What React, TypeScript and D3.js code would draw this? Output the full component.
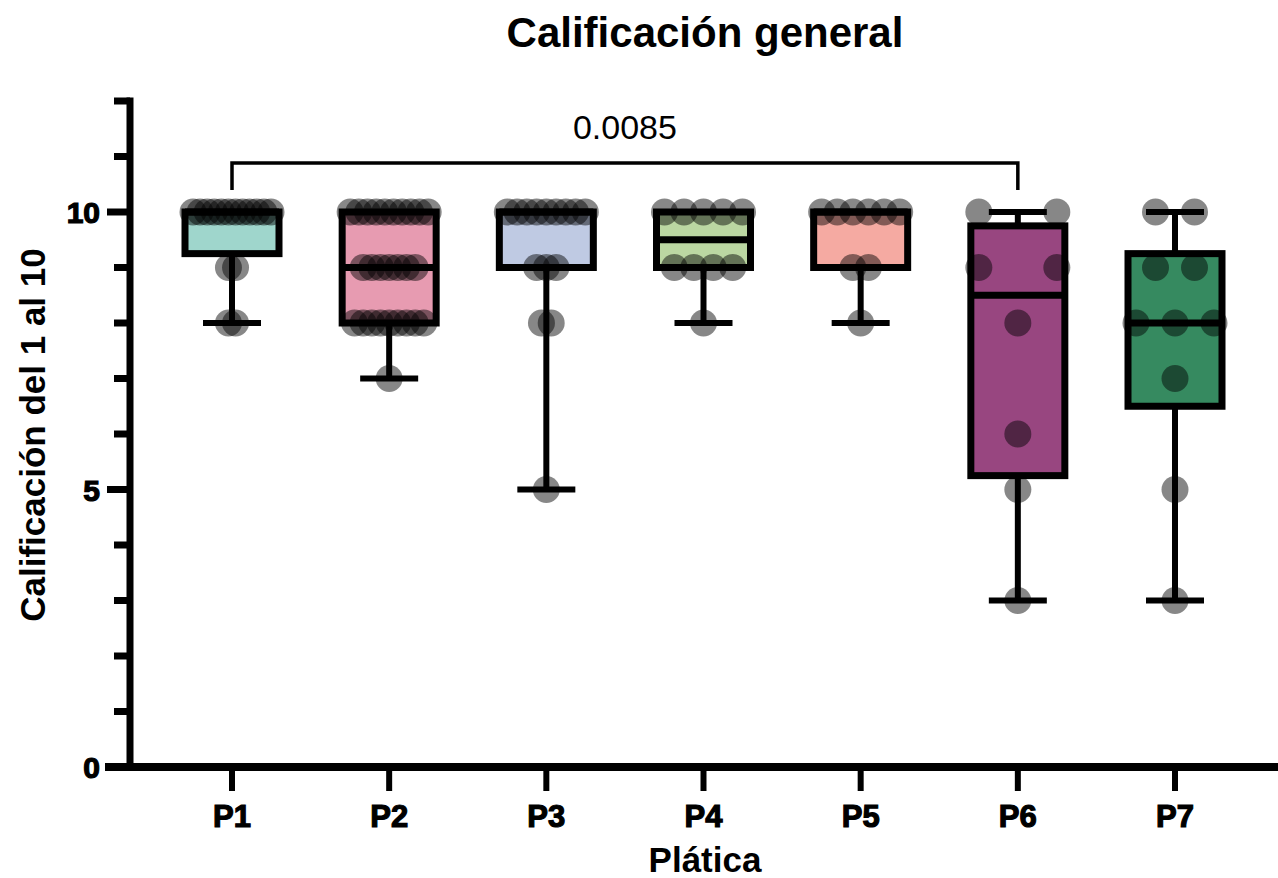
import React from "react";
import * as d3 from "d3";

// ---------- data ----------
const categories = ["P1", "P2", "P3", "P4", "P5", "P6", "P7"];

const p1Values = [8, 8, 9, 9, 10, 10, 10, 10, 10, 10, 10, 10, 10, 10, 10, 10];
const p2Values = [7, 8, 8, 8, 8, 8, 8, 8, 8, 8, 9, 9, 9, 9, 9, 9, 9, 10, 10, 10, 10, 10, 10, 10, 10, 10, 10];
const p3Values = [5, 8, 8, 9, 9, 9, 10, 10, 10, 10, 10, 10, 10, 10, 10];
const p4Values = [8, 9, 9, 9, 9, 10, 10, 10, 10, 10];
const p5Values = [8, 9, 9, 10, 10, 10, 10, 10, 10];
const p6Values = [3, 5, 6, 8, 9, 9, 10, 10];
const p7Values = [3, 5, 7, 8, 8, 8, 9, 9, 10, 10];
const seriesValues = [p1Values, p2Values, p3Values, p4Values, p5Values, p6Values, p7Values];

const boxColors = ["#9fd6cc", "#e79bb1", "#bfcae3", "#bbd7a2", "#f5aaa2", "#984680", "#368a60"];

const yTickValues = [0, 1, 2, 3, 4, 5, 6, 7, 8, 9, 10, 11, 12];
const yTickLabels = [0, 5, 10];

const comparisonPair = ["P1", "P6"];
const comparisonLabel = "0.0085";

const titleText = "Calificación general";
const yAxisTitle = "Calificación del 1 al 10";
const xAxisTitle = "Plática";

// ---------- helpers ----------
// Prism-style percentile ((n+1) method)
function percentile(sorted: number[], p: number) {
  const n = sorted.length;
  const pos = p * (n + 1);
  if (pos <= 1) return sorted[0];
  if (pos >= n) return sorted[n - 1];
  const lo = Math.floor(pos);
  const frac = pos - lo;
  return sorted[lo - 1] + frac * (sorted[lo] - sorted[lo - 1]);
}

const W = 1278;
const H = 878;
const FONT = "'Liberation Sans', Arial, Helvetica, sans-serif";

export default function App() {
  const y = d3.scaleLinear().domain([0, 12]).range([767, 101]);
  const x = d3.scalePoint<string>().domain(categories).range([232, 1175]);

  const axisX = 130;
  const axisY = y(0);
  const boxW = 94;
  const capW = 58;
  const rowSpan = 78;
  const r = 13.5;
  const lw = 7;

  const boxes = seriesValues.map((vals, i) => {
    const s = [...vals].sort((a, b) => a - b);
    const q1 = percentile(s, 0.25);
    const med = d3.median(s) as number;
    const q3 = percentile(s, 0.75);
    const mn = d3.min(s) as number;
    const mx = d3.max(s) as number;
    const groups = d3.rollups(s, (v) => v.length, (d) => d);
    const maxCount = d3.max(groups, (g) => g[1]) as number;
    const spacing = maxCount > 1 ? rowSpan / (maxCount - 1) : 0;
    const pts: { cx: number; cy: number }[] = [];
    groups.forEach(([val, k]) => {
      for (let j = 0; j < k; j++) {
        pts.push({ cx: (x(categories[i]) as number) + (j - (k - 1) / 2) * spacing, cy: y(val) });
      }
    });
    return { cat: categories[i], q1, med, q3, mn, mx, pts, color: boxColors[i] };
  });

  const bx1 = x(comparisonPair[0]) as number;
  const bx2 = x(comparisonPair[1]) as number;
  const bracketY = 163;

  return (
    <svg width={W} height={H} style={{ position: "absolute", left: 0, top: 0, background: "#fff" }} fontFamily={FONT}>
      {/* title */}
      <text x={705} y={47} textAnchor="middle" fontSize={42} fontWeight="bold">
        {titleText}
      </text>

      {/* boxes */}
      {boxes.map((b) => {
        const cx = x(b.cat) as number;
        return (
          <g key={b.cat}>
            {/* whiskers */}
            <line x1={cx} x2={cx} y1={y(b.q3)} y2={y(b.mx)} stroke="#000" strokeWidth={lw - 1} />
            <line x1={cx} x2={cx} y1={y(b.q1)} y2={y(b.mn)} stroke="#000" strokeWidth={lw - 1} />
            <line x1={cx - capW / 2} x2={cx + capW / 2} y1={y(b.mx)} y2={y(b.mx)} stroke="#000" strokeWidth={lw - 1} />
            <line x1={cx - capW / 2} x2={cx + capW / 2} y1={y(b.mn)} y2={y(b.mn)} stroke="#000" strokeWidth={lw - 1} />
            {/* box fill */}
            <rect x={cx - boxW / 2} y={y(b.q3)} width={boxW} height={y(b.q1) - y(b.q3)} fill={b.color} />
            {/* points */}
            {b.pts.map((p, j) => (
              <circle key={j} cx={p.cx} cy={p.cy} r={r} fill="#000" fillOpacity={0.47} />
            ))}
            {/* box outline + median */}
            <rect
              x={cx - boxW / 2}
              y={y(b.q3)}
              width={boxW}
              height={y(b.q1) - y(b.q3)}
              fill="none"
              stroke="#000"
              strokeWidth={lw}
            />
            <line x1={cx - boxW / 2} x2={cx + boxW / 2} y1={y(b.med)} y2={y(b.med)} stroke="#000" strokeWidth={lw} />
          </g>
        );
      })}

      {/* significance bracket */}
      <path
        d={`M${bx1},${bracketY + 27} V${bracketY} H${bx2} V${bracketY + 27}`}
        fill="none"
        stroke="#000"
        strokeWidth={3.5}
      />
      <text x={(bx1 + bx2) / 2} y={139} textAnchor="middle" fontSize={34}>
        {comparisonLabel}
      </text>

      {/* y axis */}
      <line x1={axisX} x2={axisX} y1={y(12) - 3.5} y2={axisY} stroke="#000" strokeWidth={7} />
      {yTickValues.map((t) => {
        const major = yTickLabels.includes(t);
        return (
          <line
            key={t}
            x1={major ? axisX - 23 : axisX - 16}
            x2={axisX}
            y1={y(t)}
            y2={y(t)}
            stroke="#000"
            strokeWidth={7}
          />
        );
      })}
      {yTickLabels.map((t) => (
        <text
          key={t}
          x={100}
          y={y(t) + 11}
          textAnchor="end"
          fontSize={30}
          fontWeight="bold"
          stroke="#000"
          strokeWidth={1.2}
        >
          {t}
        </text>
      ))}

      {/* x axis */}
      <line x1={105} x2={W} y1={axisY} y2={axisY} stroke="#000" strokeWidth={8} />
      {categories.map((c) => (
        <g key={c}>
          <line x1={x(c) as number} x2={x(c) as number} y1={axisY} y2={791} stroke="#000" strokeWidth={6} />
          <text
            x={x(c) as number}
            y={827}
            textAnchor="middle"
            fontSize={31}
            fontWeight="bold"
            stroke="#000"
            strokeWidth={1.2}
          >
            {c}
          </text>
        </g>
      ))}

      {/* axis titles */}
      <text x={705} y={872} textAnchor="middle" fontSize={35} fontWeight="bold">
        {xAxisTitle}
      </text>
      <text transform="translate(45,435) rotate(-90)" textAnchor="middle" fontSize={35} fontWeight="bold">
        {yAxisTitle}
      </text>
    </svg>
  );
}
